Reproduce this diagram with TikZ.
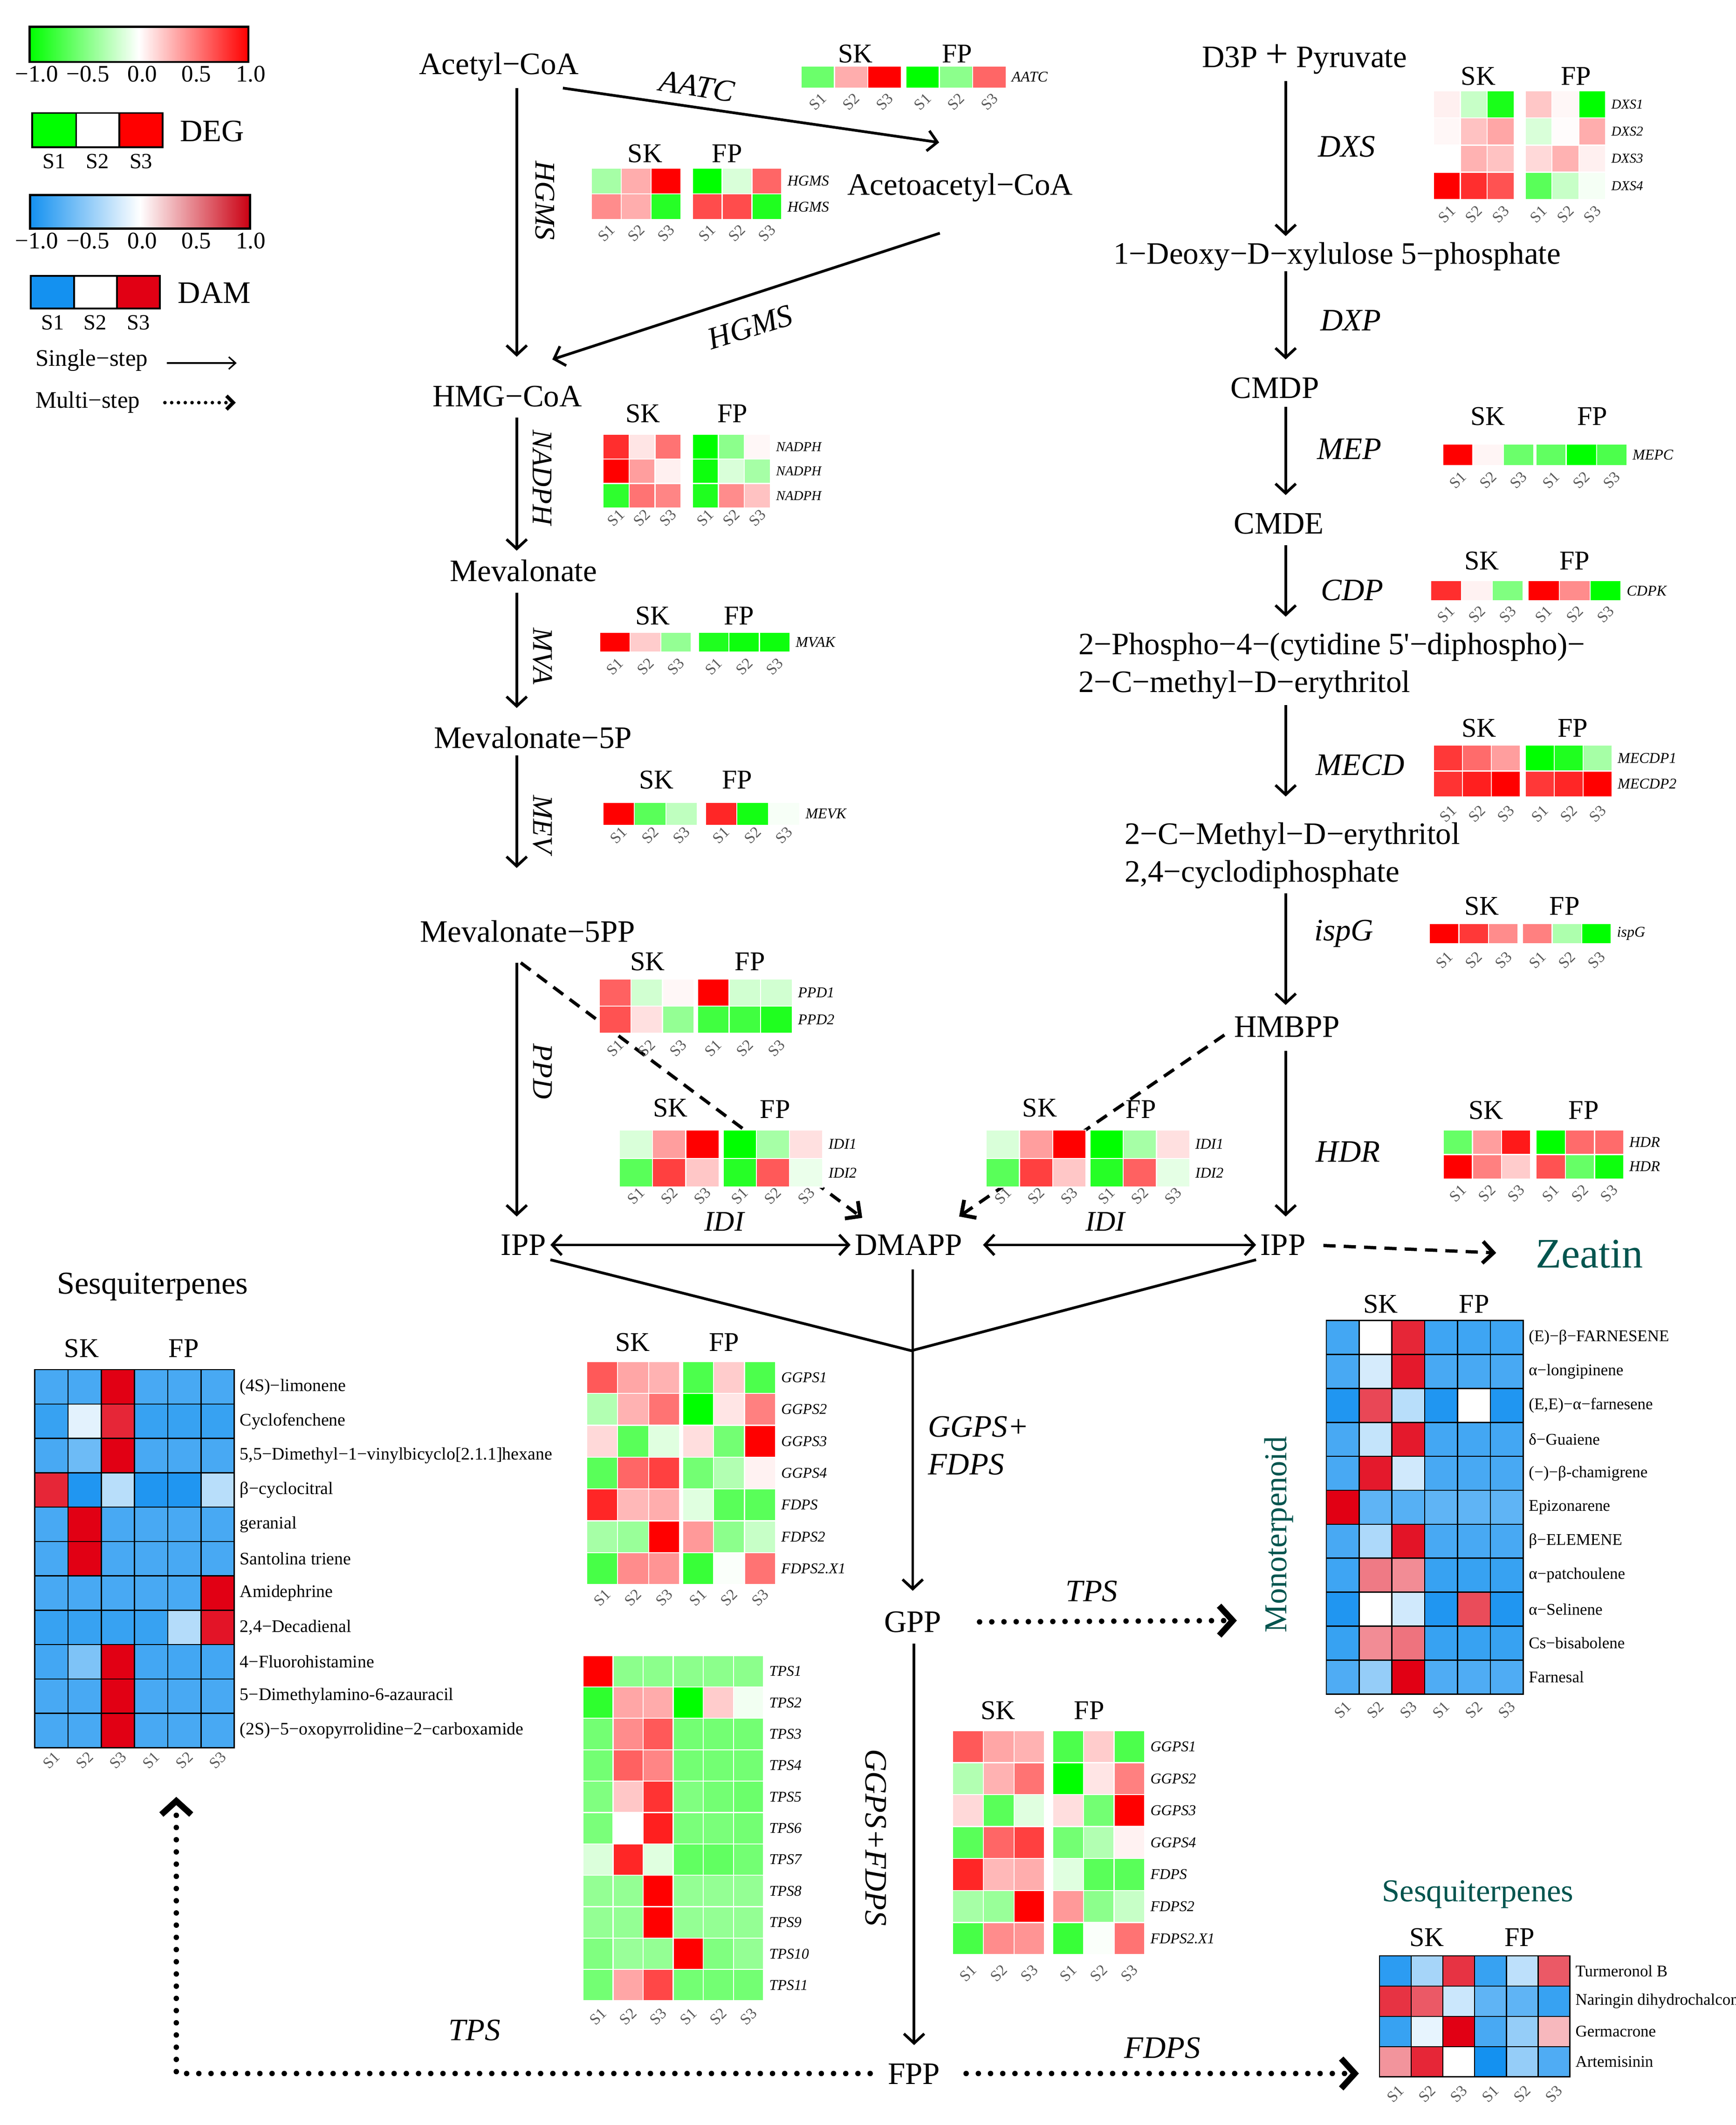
\documentclass[tikz,border=0pt]{standalone}
\usepackage{fontspec}
\setmainfont{Liberation Serif}
\usetikzlibrary{arrows.meta,calc}
\definecolor{dblue}{RGB}{20,145,240}
\definecolor{dred}{RGB}{225,0,20}
\definecolor{teal2}{RGB}{0,84,78}
% heatmap: #1 name, #2 x0, #3 y0, #4 w, #5 h, #6 gap, #7 style suffix, #8 rows, #9 labels
\newcommand{\hmap}[9]{%
  \foreach \hrow [count=\ri] in {#8}{%
    \foreach \hcol [count=\ki] in \hrow {%
      \path[cell#7, fill=\hcol] ({#2+(\ki-1)*#4+(\ki>3)*#6},{#3+(\ri-1)*#5}) rectangle ++(#4,#5);
    }%
  }%
  \foreach \hg [count=\ri] in {#9}{%
    \node[gene#7] (#1-g\ri) at ({#2+6*#4+#6+4},{#3+(\ri-0.5)*#5}) {\hg};
  }%
}
\newcommand{\slabs}[5]{%
  \foreach \hs [count=\ki] in {S1,S2,S3,S1,S2,S3}{%
    \node[slab] (#1-s\ki) at ({#2+(\ki-0.5)*#3+(\ki>3)*#4},#5) {\hs};
  }%
}
\begin{document}
\begin{tikzpicture}[x=1pt,y=-1pt,
  met/.style={font=\fontsize{23}{28}\selectfont, inner sep=3pt, text height=15.5pt, text depth=0pt},
  met2/.style={font=\fontsize{23}{28}\selectfont, inner sep=3pt, align=left, anchor=west},
  enz/.style={font=\fontsize{23}{28}\selectfont\itshape, inner sep=1pt, text height=15.5pt, text depth=0pt},
  venz/.style={font=\fontsize{21}{25}\selectfont\itshape, inner sep=1pt, rotate=-90},
  hdr/.style={font=\fontsize{20}{24}\selectfont, inner sep=0pt, text height=13.2pt, text depth=0pt},
  slab/.style={font=\fontsize{11.5}{13}\selectfont, text=black!65, rotate=45, inner sep=0pt},
  geneA/.style={font=\fontsize{11}{13}\selectfont\itshape, anchor=west, inner sep=0pt},
  geneB/.style={font=\fontsize{10}{12}\selectfont\itshape, anchor=west, inner sep=0pt},
  geneC/.style={font=\fontsize{13}{15}\selectfont, anchor=west, inner sep=0pt},
  geneD/.style={font=\fontsize{12}{14}\selectfont, anchor=west, inner sep=0pt},
  cellA/.style={draw=white, line width=0.8pt},
  cellB/.style={draw=white, line width=0.8pt},
  cellC/.style={draw=black, line width=0.9pt},
  cellD/.style={draw=black, line width=0.9pt},
  arr/.style={line width=2pt, -{Straight Barb[length=7pt,width=15pt]}},
  dblarr/.style={line width=2pt, {Straight Barb[length=7pt,width=15pt]}-{Straight Barb[length=7pt,width=15pt]}},
  dasharr/.style={line width=2.4pt, dash pattern=on 9pt off 6pt, -{Straight Barb[length=8pt,width=16pt,line width=2.8pt]}},
  dotarr/.style={line width=4pt, line cap=round, dash pattern=on 0pt off 9pt, -{Straight Barb[length=10pt,width=22pt,line width=4.5pt]}},
  joinline/.style={line width=2pt},
  ticklab/.style={font=\fontsize{17.5}{20}\selectfont, inner sep=0pt},
  leg/.style={font=\fontsize{17.5}{20}\selectfont, inner sep=0pt, anchor=west},
  title/.style={font=\fontsize{23.5}{28}\selectfont, inner sep=0pt},
]
\useasboundingbox (0,0) rectangle (1280,1567);
\clip (0,0) rectangle (1280,1567);

% ---------------- legend ----------------
\shade[left color=green, right color=red, middle color=white] (21.8,19.8) rectangle (183.1,45.6);
\draw[line width=1.5pt] (21.8,19.8) rectangle (183.1,45.6);
\node[ticklab] (t1a) at (27,54.5) {−1.0};
\node[ticklab] (t1b) at (64.8,54.5) {−0.5};
\node[ticklab] (t1c) at (105,54.5) {0.0};
\node[ticklab] (t1d) at (144.8,54.5) {0.5};
\node[ticklab] (t1e) at (185,54.5) {1.0};
\fill[green] (23.8,83.3) rectangle (56.2,108.7);
\fill[white] (56.2,83.3) rectangle (87.9,108.7);
\fill[red] (87.9,83.3) rectangle (120,108.7);
\draw[line width=1.3pt] (23.8,83.3) rectangle (120,108.7) (56.2,83.3) -- (56.2,108.7) (87.9,83.3) -- (87.9,108.7);
\node[font=\fontsize{23}{26}\selectfont, inner sep=0pt] (degl) at (156.5,96.7) {DEG};
\node[font=\fontsize{16}{18}\selectfont, inner sep=0pt] (degs1) at (40,119) {S1};
\node[font=\fontsize{16}{18}\selectfont, inner sep=0pt] (degs2) at (72,119) {S2};
\node[font=\fontsize{16}{18}\selectfont, inner sep=0pt] (degs3) at (104,119) {S3};

\shade[left color=dblue, right color=dred!90!black, middle color=white] (22.2,143.8) rectangle (184.4,168.5);
\draw[line width=1.5pt] (22.2,143.8) rectangle (184.4,168.5);
\node[ticklab] (t2a) at (27,177.5) {−1.0};
\node[ticklab] (t2b) at (64.8,177.5) {−0.5};
\node[ticklab] (t2c) at (105,177.5) {0.0};
\node[ticklab] (t2d) at (144.8,177.5) {0.5};
\node[ticklab] (t2e) at (185,177.5) {1.0};
\fill[dblue] (22.7,203.3) rectangle (54.6,227.6);
\fill[white] (54.6,203.3) rectangle (86.2,227.6);
\fill[dred] (86.2,203.3) rectangle (118,227.6);
\draw[line width=1.3pt] (22.7,203.3) rectangle (118,227.6) (54.6,203.3) -- (54.6,227.6) (86.2,203.3) -- (86.2,227.6);
\node[font=\fontsize{23}{26}\selectfont, inner sep=0pt] (daml) at (158,216) {DAM};
\node[font=\fontsize{16}{18}\selectfont, inner sep=0pt] (dams1) at (39,238) {S1};
\node[font=\fontsize{16}{18}\selectfont, inner sep=0pt] (dams2) at (70,238) {S2};
\node[font=\fontsize{16}{18}\selectfont, inner sep=0pt] (dams3) at (102,238) {S3};

\node[leg] (single) at (26,265.7) {Single−step};
\node[leg] (multi) at (26,296.5) {Multi−step};
\coordinate (ls1) at (123,267.7); \coordinate (ls2) at (174.5,267.7);
\coordinate (lm1) at (121.6,296.9); \coordinate (lm2) at (173.8,296.9);
\draw[line width=1.1pt, -{Straight Barb[length=5pt,width=9pt]}] (ls1) -- (ls2);
\draw[line width=2.6pt, line cap=round, dash pattern=on 0pt off 5pt, -{Straight Barb[length=5pt,width=10pt,line width=2.6pt]}] (lm1) -- (lm2);

% ---------------- metabolites ----------------
\node[met] (acetyl) at (368,47) {Acetyl−CoA};
\node[met] (acetoacetyl) at (708,136) {Acetoacetyl−CoA};
\node[met] (hmg) at (374,292) {HMG−CoA};
\node[met] (mev) at (386,421) {Mevalonate};
\node[met] (mev5p) at (393,544) {Mevalonate−5P};
\node[met] (mev5pp) at (389,687) {Mevalonate−5PP};
\node[met] (ippL) at (386,918) {IPP};
\node[met] (dmapp) at (670,918) {DMAPP};
\node[met] (ippR) at (946,918) {IPP};
\node[met, font=\fontsize{31}{34}\selectfont, text=teal2, text height=20pt] (zeatin) at (1172,925) {Zeatin};
\node[met] (d3p) at (962,42) {D3P {\fontsize{30}{30}\selectfont +} Pyruvate};
\node[met] (dxp) at (986,187) {1−Deoxy−D−xylulose 5−phosphate};
\node[met] (cmdp) at (940,286) {CMDP};
\node[met] (cmde) at (943,386) {CMDE};
\node[met2] (cdpme) at (792,491) {2−Phospho−4−(cytidine 5\textquotesingle−diphospho)−\\2−C−methyl−D−erythritol};
\node[met2] (mecpp) at (826,631) {2−C−Methyl−D−erythritol\\2,4−cyclodiphosphate};
\node[met] (hmbpp) at (949,757) {HMBPP};
\node[met] (gpp) at (673,1196) {GPP};
\node[met] (fpp) at (674,1529) {FPP};

\node[title] (sesqL) at (112.5,948.8) {Sesquiterpenes};
\node[title, text=teal2] (sesqR) at (1089.7,1396.8) {Sesquiterpenes};
\node[title, text=teal2, rotate=90] (mono) at (943,1131.5) {Monoterpenoid};

% ---------------- connectors ----------------
\coordinate (cL) at (381,0);
\coordinate (cR) at (948,0);
\coordinate (J) at (672,996);
\coordinate (monoEnd) at (912,1195);
\coordinate (sesqREnd) at (1002,1529);
\coordinate (sesqLEnd) at (130,1325);

\draw[arr] ([yshift=-7pt]acetyl.south -| cL) -- ([yshift=18pt]hmg.north -| cL);
\draw[arr] ([xshift=-15pt,yshift=-7pt]acetyl.south east) -- ([xshift=-15.5pt,yshift=20pt]acetoacetyl.north);
\draw[arr] ([xshift=-15pt,yshift=-25pt]acetoacetyl.south) -- ([xshift=-25pt,yshift=16pt]hmg.north east);
\draw[arr] ([yshift=-5pt]hmg.south -| cL) -- ([yshift=4pt]mev.north -| cL);
\draw[arr] ([yshift=-5pt]mev.south -| cL) -- ([yshift=11pt]mev5p.north -| cL);
\draw[arr] ([yshift=-2pt]mev5p.south -| cL) -- ([yshift=36pt]mev5pp.north -| cL);
\draw[arr] ([yshift=-12pt]mev5pp.south -| cL) -- ([yshift=10pt]ippL.north -| cL);
\draw[dasharr] ([xshift=-5pt,yshift=-12pt]mev5pp.south) -- ([xshift=8.6pt,yshift=9pt]dmapp.north west);

\draw[arr] ([yshift=-7pt]d3p.south -| cR) -- ([yshift=2pt]dxp.north -| cR);
\draw[arr] ([yshift=-2pt]dxp.south -| cR) -- ([yshift=10pt]cmdp.north -| cR);
\draw[arr] ([yshift=-3pt]cmdp.south -| cR) -- ([yshift=10pt]cmde.north -| cR);
\draw[arr] ([yshift=-5pt]cmde.south -| cR) -- ([yshift=8.6pt]cdpme.north -| cR);
\draw[arr] ([yshift=-1.4pt]cdpme.south -| cR) -- ([yshift=16pt]mecpp.north -| cR);
\draw[arr] (mecpp.south -| cR) -- ([yshift=5pt]hmbpp.north -| cR);
\draw[arr] ([yshift=-7pt]hmbpp.south -| cR) -- ([yshift=10pt]ippR.north -| cR);
\draw[dasharr] ([xshift=-4pt,yshift=4.75pt]hmbpp.south west) -- ([xshift=-5.6pt,yshift=10pt]dmapp.north east);

\draw[dblarr] (ippL.east) -- (dmapp.west);
\draw[dblarr, shorten <=12pt] (dmapp.east) -- (ippR.west);
\draw[dasharr, shorten <=10pt, shorten >=26pt] (ippR.east) -- (zeatin.west);

\draw[joinline] (ippL.south east) -- (J) -- (ippR.south west);
\draw[arr] ([yshift=-7pt]dmapp.south -| gpp) -- ([yshift=12pt]gpp.north);
\draw[arr] ([yshift=-5pt]gpp.south -| fpp) -- ([yshift=10pt]fpp.north);
\draw[dotarr] ([xshift=25pt]gpp.east) -- (monoEnd);
\draw[dotarr] ([xshift=16pt]fpp.east) -- (sesqREnd);
\draw[dotarr] ([xshift=-10pt]fpp.west) -| (sesqLEnd);

% ---------------- enzyme labels ----------------
\node[enz, rotate=-9] (e-aatc) at (514,63.5) {AATC};
\node[venz] (e-hgms1) at (402,148) {HGMS};
\node[enz, rotate=17] (e-hgms2) at (553,241) {HGMS};
\node[venz] (e-nadph) at (400,352) {NADPH};
\node[venz] (e-mva) at (400,484) {MVA};
\node[venz] (e-mev) at (400,608) {MEV};
\node[venz] (e-ppd) at (400,790) {PPD};
\node[enz, font=\fontsize{21}{25}\selectfont\itshape] (e-idi1) at (534,900) {IDI};
\node[enz, font=\fontsize{21}{25}\selectfont\itshape] (e-idi2) at (815,900) {IDI};
\node[enz] (e-dxs) at (993,108) {DXS};
\node[enz] (e-dxp) at (996,236) {DXP};
\node[enz] (e-mep) at (995,331) {MEP};
\node[enz] (e-cdp) at (997,435) {CDP};
\node[enz] (e-mecd) at (1003,564) {MECD};
\node[enz] (e-ispg) at (991,686) {ispG};
\node[enz] (e-hdr) at (994,849) {HDR};
\node[font=\fontsize{23}{28}\selectfont\itshape, inner sep=1pt, align=left, anchor=west] (e-ggps1) at (683,1066) {GGPS+\\FDPS};
\node[enz] (e-tps1) at (805,1173) {TPS};
\node[enz, rotate=-90] (e-ggps2) at (646,1355) {GGPS+FDPS};
\node[enz] (e-tps2) at (350,1497) {TPS};
\node[enz] (e-fdps) at (857,1510) {FDPS};

% ---------------- DEG heatmaps ----------------
% AATC
\hmap{aatc}{590.7}{48.6}{24.6}{16.5}{3.5}{A}{{green!58,red!32,red!100,green!100,green!45,red!60}}{AATC}
\node[hdr] (aatc-sk) at (630.7,39.5) {SK}; \node[hdr] (aatc-fp) at (705.8,39.5) {FP};
\slabs{aatc}{590.7}{24.6}{3.5}{75}
% HGMS
\hmap{hgms}{436}{124}{22}{19}{8.5}{A}{{green!35,red!32,red!100,green!100,green!15,red!60},{red!45,red!32,green!85,red!70,red!70,green!88}}{HGMS,HGMS}
\node[hdr] (hgms-sk) at (475.6,113) {SK}; \node[hdr] (hgms-fp) at (536.2,113) {FP};
\slabs{hgms}{436}{22}{8.5}{172}
% NADPH
\hmap{nadph}{444.6}{320.3}{19.2}{18.1}{8.3}{B}{{red!82,red!10,red!55,green!100,green!45,red!3},{red!100,red!38,red!6,green!95,green!15,green!35},{green!82,red!55,red!48,green!88,red!45,red!24}}{NADPH,NADPH,NADPH}
\node[hdr] (nadph-sk) at (474,305) {SK}; \node[hdr] (nadph-fp) at (540,305) {FP};
\slabs{nadph}{444.6}{19.2}{8.3}{382}
% MVAK
\hmap{mvak}{442.2}{466.1}{22.5}{14.8}{5.3}{A}{{red!100,red!20,green!42,green!88,green!95,green!95}}{MVAK}
\node[hdr] (mvak-sk) at (481.2,454) {SK}; \node[hdr] (mvak-fp) at (544.9,454) {FP};
\slabs{mvak}{442.2}{22.5}{5.3}{491.5}
% MEVK
\hmap{mevk}{444.6}{591.7}{23.2}{17}{6}{A}{{red!100,green!65,green!25,red!85,green!92,green!3}}{MEVK}
\node[hdr] (mevk-sk) at (484,575) {SK}; \node[hdr] (mevk-fp) at (543.5,575) {FP};
\slabs{mevk}{444.6}{23.2}{6}{616}
% PPD
\hmap{ppd}{441.9}{722}{23.3}{20}{2.5}{A}{{red!62,green!18,red!3,red!100,green!18,green!18},{red!68,red!12,green!42,green!75,green!75,green!88}}{PPD1,PPD2}
\node[hdr] (ppd-sk) at (477.4,709) {SK}; \node[hdr] (ppd-fp) at (553,709) {FP};
\slabs{ppd}{441.9}{23.3}{2.5}{773}
% IDI left
\hmap{idiL}{456.7}{833.2}{24.5}{21.1}{3}{A}{{green!15,red!38,red!100,green!100,green!35,red!12},{green!65,red!75,red!22,green!85,red!65,green!8}}{IDI1,IDI2}
\node[hdr] (idiL-sk) at (494.4,817) {SK}; \node[hdr] (idiL-fp) at (571.5,818) {FP};
\slabs{idiL}{456.7}{24.5}{3}{882}
% IDI right
\hmap{idiR}{727.2}{833.2}{24.5}{21.1}{3}{A}{{green!15,red!38,red!100,green!100,green!35,red!12},{green!65,red!75,red!22,green!85,red!62,green!10}}{IDI1,IDI2}
\node[hdr] (idiR-sk) at (766.7,817) {SK}; \node[hdr] (idiR-fp) at (841.3,818) {FP};
\slabs{idiR}{727.2}{24.5}{3}{882}
% DXS
\hmap{dxs}{1057}{67}{19.8}{20}{8.2}{B}{{red!6,green!22,green!90,red!22,red!3,green!100},{red!3,red!24,red!35,green!15,red!1,red!32},{white,red!30,red!24,red!15,red!30,red!6},{red!100,red!82,red!68,green!65,green!22,green!4}}{DXS1,DXS2,DXS3,DXS4}
\node[hdr] (dxs-sk) at (1090,56) {SK}; \node[hdr] (dxs-fp) at (1162,56) {FP};
\slabs{dxs}{1057}{19.8}{8.2}{158}
% MEPC
\hmap{mepc}{1063.7}{327.3}{22.4}{16}{1.5}{A}{{red!100,red!4,green!58,green!62,green!100,green!70}}{MEPC}
\node[hdr] (mepc-sk) at (1097,307) {SK}; \node[hdr] (mepc-fp) at (1174,307) {FP};
\slabs{mepc}{1063.7}{22.4}{1.5}{354}
% CDPK
\hmap{cdpk}{1054.8}{428.1}{22.8}{15}{3.7}{A}{{red!82,red!5,green!50,red!100,red!45,green!100}}{CDPK}
\node[hdr] (cdpk-sk) at (1092.7,413.5) {SK}; \node[hdr] (cdpk-fp) at (1161,413.5) {FP};
\slabs{cdpk}{1054.8}{22.8}{3.7}{453}
% MECDP
\hmap{mecdp}{1057}{549.5}{21.3}{19}{3.8}{A}{{red!78,red!58,red!38,green!100,green!88,green!35},{red!80,red!88,red!100,red!78,red!85,red!100}}{MECDP1,MECDP2}
\node[hdr] (mecdp-sk) at (1090.5,537) {SK}; \node[hdr] (mecdp-fp) at (1159.6,537) {FP};
\slabs{mecdp}{1057}{21.3}{3.8}{600}
% ispG
\hmap{ispg}{1054}{681}{21.8}{15}{3.3}{A}{{red!100,red!78,red!45,red!50,green!32,green!100}}{ispG}
\node[hdr] (ispg-sk) at (1092.7,668) {SK}; \node[hdr] (ispg-fp) at (1153.7,668) {FP};
\slabs{ispg}{1054}{21.8}{3.3}{708}
% HDR
\hmap{hdr}{1064.2}{833.3}{21.5}{18}{4}{A}{{green!60,red!38,red!90,green!100,red!58,red!58},{red!100,red!50,red!20,red!68,green!60,green!95}}{HDR,HDR}
\node[hdr] (hdr-sk) at (1095.7,818.5) {SK}; \node[hdr] (hdr-fp) at (1167.8,818.5) {FP};
\slabs{hdr}{1064.2}{21.5}{4}{880}
% GGPS (middle)
\hmap{ggpsA}{432.5}{1004}{22.9}{23.5}{2}{A}{{red!65,red!35,red!30,green!70,red!20,green!70},{green!30,red!30,red!55,green!100,red!10,red!50},{red!15,green!65,green!12,red!13,green!55,red!100},{green!65,red!60,red!75,green!55,green!30,red!5},{red!85,red!28,red!32,green!12,green!65,green!65},{green!35,green!40,red!100,red!40,green!45,green!22},{green!72,red!45,red!42,green!78,green!2,red!55}}{GGPS1,GGPS2,GGPS3,GGPS4,FDPS,FDPS2,FDPS2.X1}
\node[hdr] (ggpsA-sk) at (466.4,989.6) {SK}; \node[hdr] (ggpsA-fp) at (534,989.6) {FP};
\slabs{ggpsA}{432.5}{22.9}{2}{1178}
% TPS
\hmap{tps}{429.8}{1220.8}{22.2}{23.15}{0}{A}{{red!100,green!45,green!45,green!45,green!45,green!45},{green!82,red!35,red!33,green!100,red!20,green!5},{green!55,red!45,red!65,green!55,green!55,green!55},{green!55,red!62,red!48,green!55,green!55,green!55},{green!50,red!22,red!80,green!50,green!55,green!58},{green!52,white,red!88,green!52,green!52,green!55},{green!14,red!85,green!12,green!62,green!62,green!55},{green!42,green!42,red!100,green!42,green!42,green!42},{green!42,green!42,red!100,green!42,green!42,green!42},{green!50,green!40,green!42,red!100,green!50,green!42},{green!55,red!35,red!72,green!55,green!55,green!55}}{TPS1,TPS2,TPS3,TPS4,TPS5,TPS6,TPS7,TPS8,TPS9,TPS10,TPS11}
\slabs{tps}{429.8}{22.2}{0}{1487}
% GGPS (bottom)
\hmap{ggpsB}{702.5}{1276.2}{22.6}{23.57}{6}{A}{{red!65,red!35,red!30,green!70,red!20,green!70},{green!30,red!30,red!55,green!100,red!10,red!50},{red!15,green!65,green!12,red!13,green!55,red!100},{green!65,red!60,red!75,green!55,green!30,red!5},{red!85,red!28,red!32,green!12,green!65,green!65},{green!35,green!40,red!100,red!40,green!45,green!22},{green!72,red!45,red!42,green!78,green!2,red!55}}{GGPS1,GGPS2,GGPS3,GGPS4,FDPS,FDPS2,FDPS2.X1}
\node[hdr] (ggpsB-sk) at (736,1261.4) {SK}; \node[hdr] (ggpsB-fp) at (803.2,1261.4) {FP};
\slabs{ggpsB}{702.5}{22.6}{6}{1455}

% ---------------- DAM heatmaps ----------------
\hmap{sqL}{25.7}{1010}{24.5}{25.34}{0}{C}{{dblue!78,dblue!78,dred,dblue!78,dblue!78,dblue!78},{dblue!85,dblue!12,dred!85,dblue!85,dblue!85,dblue!85},{dblue!78,dblue!62,dred,dblue!78,dblue!78,dblue!78},{dred!85,dblue!95,dblue!30,dblue!95,dblue!95,dblue!30},{dblue!78,dred,dblue!78,dblue!78,dblue!78,dblue!78},{dblue!78,dred,dblue!78,dblue!78,dblue!78,dblue!78},{dblue!78,dblue!78,dblue!78,dblue!78,dblue!78,dred},{dblue!85,dblue!85,dblue!85,dblue!85,dblue!32,dred!92},{dblue!80,dblue!55,dred,dblue!80,dblue!80,dblue!80},{dblue!78,dblue!78,dred,dblue!78,dblue!78,dblue!78},{dblue!78,dblue!78,dred,dblue!78,dblue!78,dblue!78}}{{(4S)−limonene},{Cyclofenchene},{5,5−Dimethyl−1−vinylbicyclo[2.1.1]hexane},{β−cyclocitral},{geranial},{Santolina triene},{Amidephrine},{2,4−Decadienal},{4−Fluorohistamine},{5−Dimethylamino-6-azauracil},{(2S)−5−oxopyrrolidine−2−carboxamide}}
\node[hdr] (sqL-sk) at (60.1,994.4) {SK}; \node[hdr] (sqL-fp) at (135.5,994.4) {FP};
\slabs{sqL}{25.7}{24.5}{0}{1298}

\hmap{mono}{978}{973.7}{24.18}{25.05}{0}{D}{{dblue!80,white,dred!85,dblue!82,dblue!82,dblue!82},{dblue!78,dblue!18,dred!90,dblue!78,dblue!78,dblue!78},{dblue!95,dred!72,dblue!30,dblue!95,white,dblue!95},{dblue!78,dblue!25,dred!90,dblue!80,dblue!80,dblue!80},{dblue!78,dred!90,dblue!20,dblue!78,dblue!78,dblue!78},{dred,dblue!68,dblue!72,dblue!68,dblue!68,dblue!68},{dblue!78,dblue!35,dred!92,dblue!78,dblue!78,dblue!78},{dblue!82,dred!52,dred!45,dblue!85,dblue!85,dblue!85},{dblue!95,white,dblue!20,dblue!95,dred!70,dblue!95},{dblue!85,dred!45,dred!55,dblue!85,dblue!85,dblue!85},{dblue!75,dblue!45,dred,dblue!75,dblue!75,dblue!75}}{{(E)−β−FARNESENE},{α−longipinene},{(E,E)−α−farnesene},{δ−Guaiene},{(−)−β-chamigrene},{Epizonarene},{β−ELEMENE},{α−patchoulene},{α−Selinene},{Cs−bisabolene},{Farnesal}}
\node[hdr] (mono-sk) at (1018,961.7) {SK}; \node[hdr] (mono-fp) at (1087,961.7) {FP};
\slabs{mono}{978}{24.18}{0}{1261}

\hmap{sqR}{1017.1}{1442.3}{23.4}{22.3}{0}{D}{{dblue!90,dblue!38,dred!80,dblue!85,dblue!28,dred!65},{dred!80,dred!65,dblue!22,dblue!68,dblue!68,dblue!85},{dblue!85,dblue!10,dred,dblue!78,dblue!45,dred!28},{dred!42,dred!85,white,dblue!100,dblue!45,dblue!75}}{{Turmeronol B},{Naringin dihydrochalcone},{Germacrone},{Artemisinin}}
\node[hdr] (sqR-sk) at (1052,1428.5) {SK}; \node[hdr] (sqR-fp) at (1120.5,1428.5) {FP};
\slabs{sqR}{1017.1}{23.4}{0}{1544}
\end{tikzpicture}
\end{document}
